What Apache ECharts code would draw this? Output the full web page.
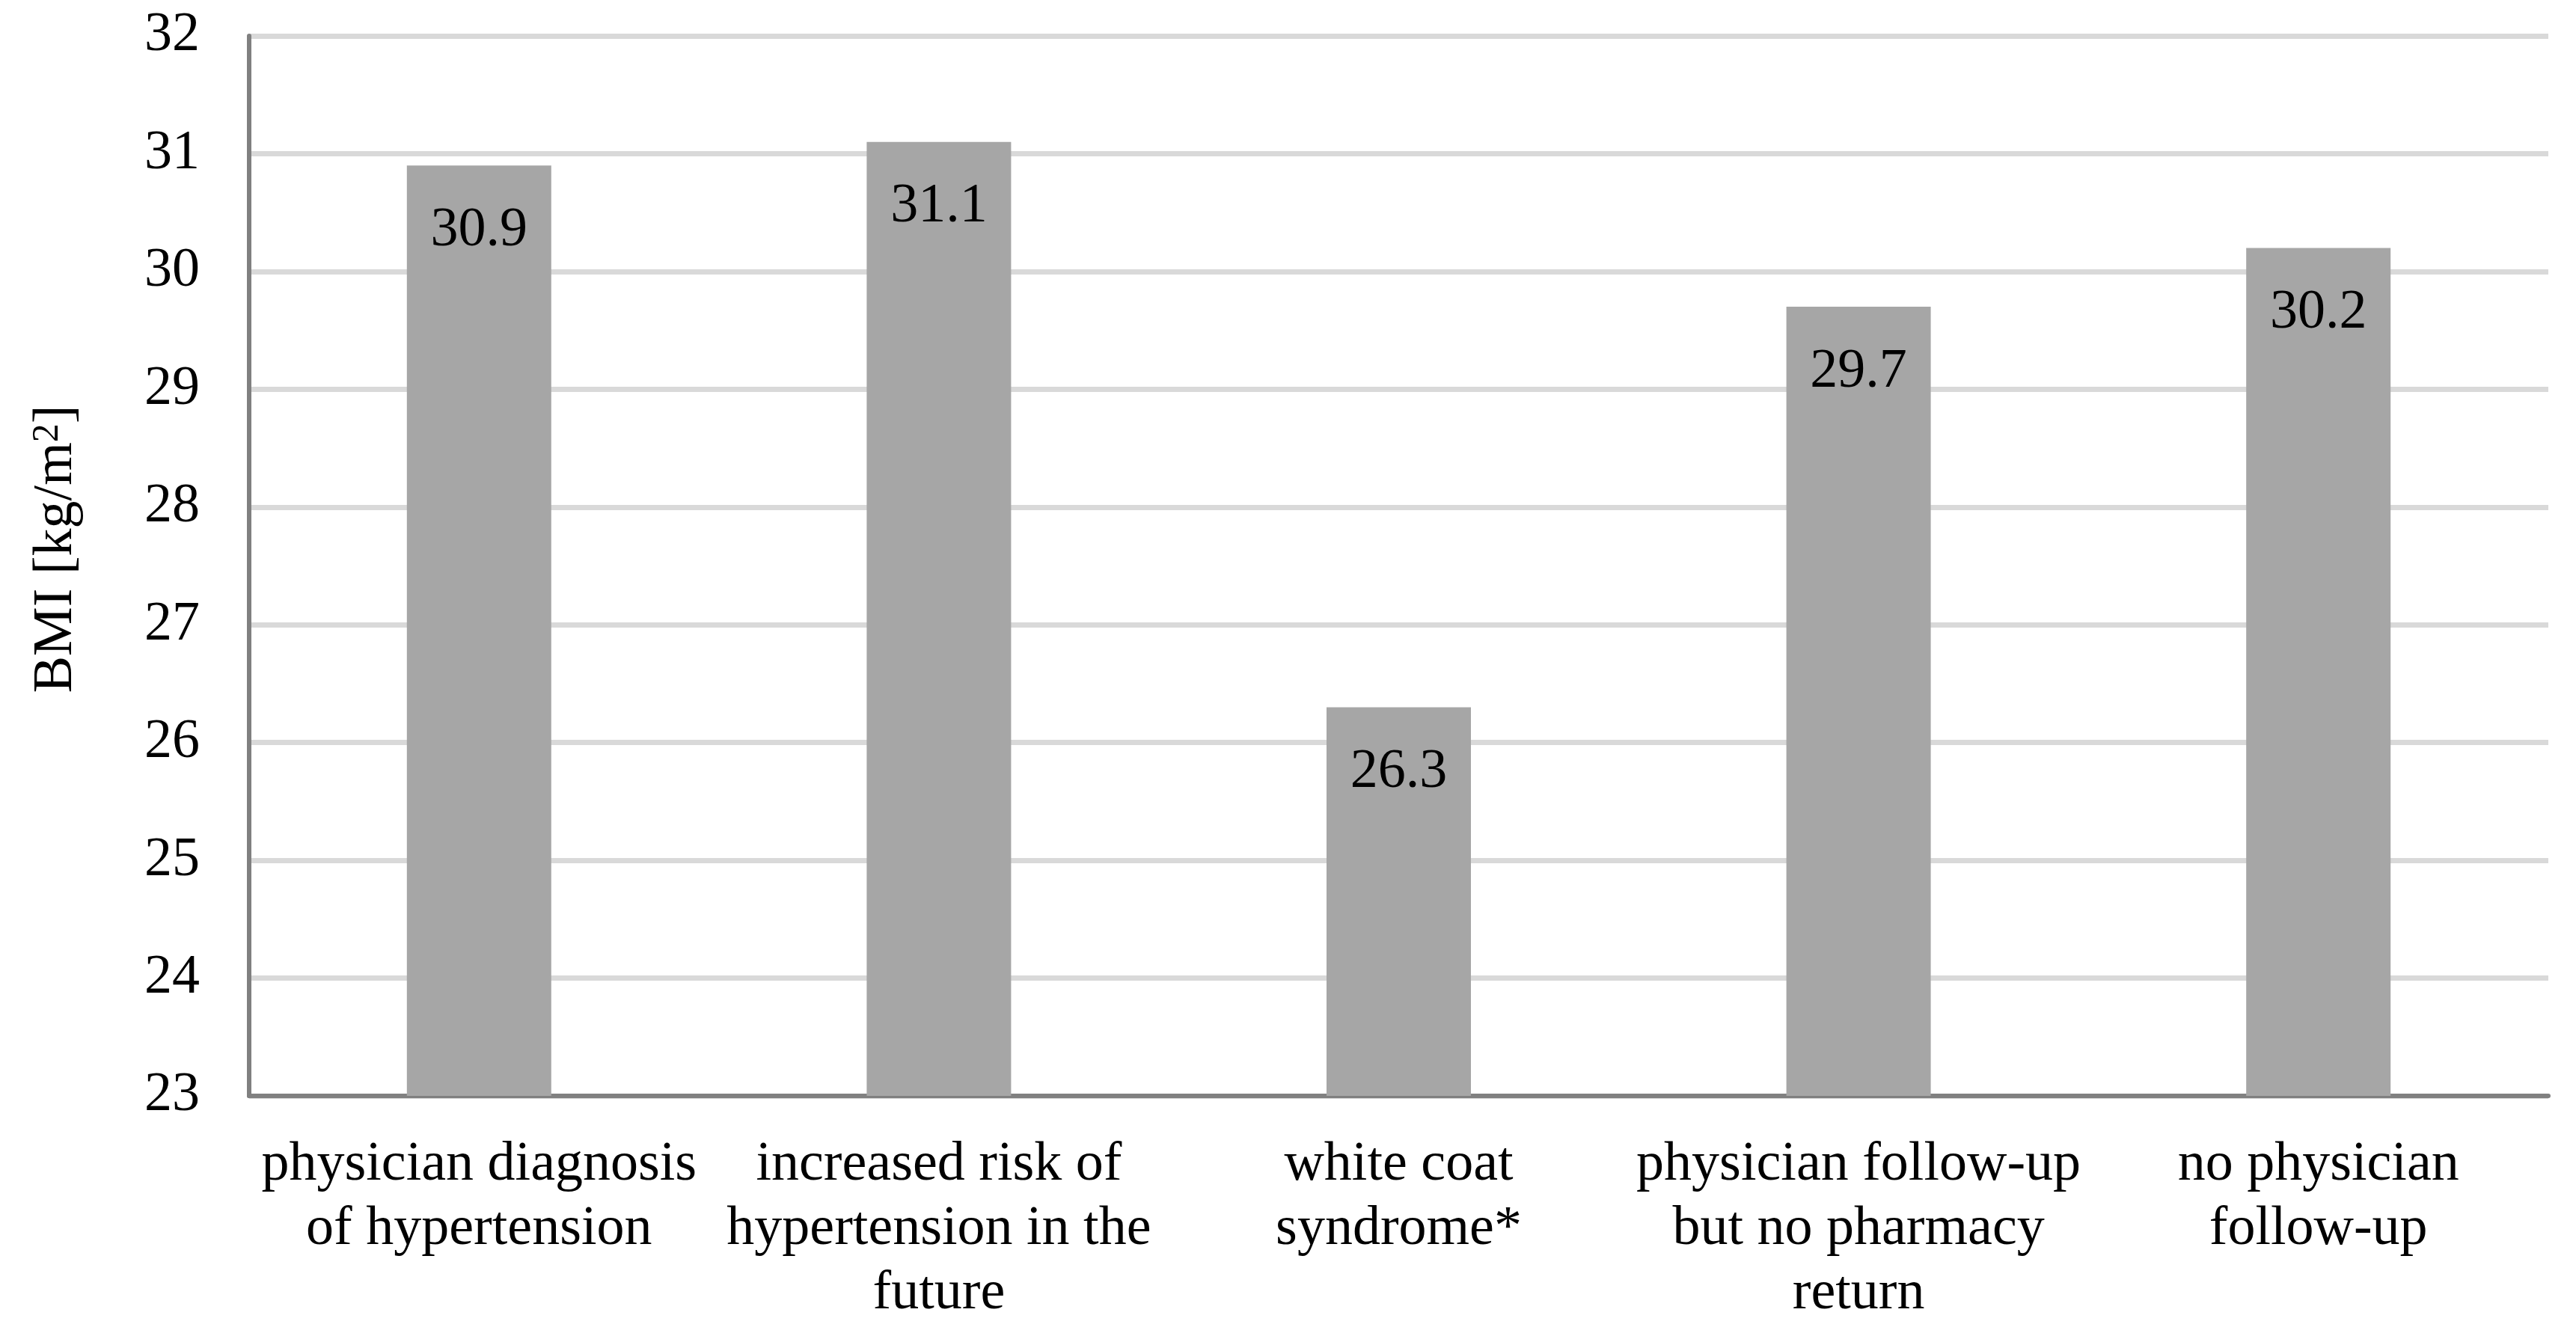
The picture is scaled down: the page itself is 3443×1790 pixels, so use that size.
<!DOCTYPE html>
<html>
<head>
<meta charset="utf-8">
<script src="https://cdn.jsdelivr.net/npm/echarts@6/dist/echarts.min.js"></script>
<style>
html,body{margin:0;padding:0;background:#fff;}
#c{width:3443px;height:1790px;}
</style>
</head>
<body>
<div id="c"></div>
<script>
const categories = [
  'physician diagnosis\nof hypertension',
  'increased risk of\nhypertension in the\nfuture',
  'white coat\nsyndrome*',
  'physician follow-up\nbut no pharmacy\nreturn',
  'no physician\nfollow-up'
];
const bmiValues = [30.9, 31.1, 26.3, 29.7, 30.2];
const yMin = 23, yMax = 32, yStep = 1;
const yTitle = '{a|BMI [kg/m}{s|2}{a|]}';

const FONT = '"Liberation Serif", "Times New Roman", serif';
const chart = echarts.init(document.getElementById('c'), null, {renderer: 'canvas'});
chart.setOption({
  animation: false,
  backgroundColor: '#ffffff',
  grid: {left: 333, right: 37, top: 48, bottom: 325, containLabel: false},
  xAxis: {
    type: 'category',
    data: categories,
    axisLine: {show: true, lineStyle: {color: '#808080', width: 6}},
    axisTick: {show: false},
    axisLabel: {
      interval: 0, fontSize: 74, lineHeight: 86, margin: 50,
      color: '#000', fontFamily: FONT, align: 'center'
    }
  },
  yAxis: {
    type: 'value',
    min: yMin, max: yMax, interval: yStep,
    axisLine: {show: true, lineStyle: {color: '#808080', width: 6}},
    axisTick: {show: false},
    axisLabel: {fontSize: 74, margin: 66, color: '#000', fontFamily: FONT},
    splitLine: {show: true, lineStyle: {color: '#d9d9d9', width: 7}}
  },
  series: [{
    type: 'bar',
    data: bmiValues,
    barWidth: 193,
    itemStyle: {color: '#a6a6a6'},
    label: {
      show: true, position: 'insideTop', distance: 50,
      fontSize: 74, color: '#000', fontFamily: FONT,
      formatter: p => p.value.toFixed(1)
    }
  }],
  graphic: [{
    type: 'text',
    x: 76, y: 734,
    rotation: Math.PI / 2,
    style: {
      text: yTitle,
      align: 'center',
      verticalAlign: 'middle',
      rich: {
        a: {fontSize: 74, fontFamily: FONT, fill: '#000', lineHeight: 74},
        s: {fontSize: 50, fontFamily: FONT, fill: '#000', lineHeight: 40, verticalAlign: 'top'}
      }
    }
  }]
});
</script>
</body>
</html>
